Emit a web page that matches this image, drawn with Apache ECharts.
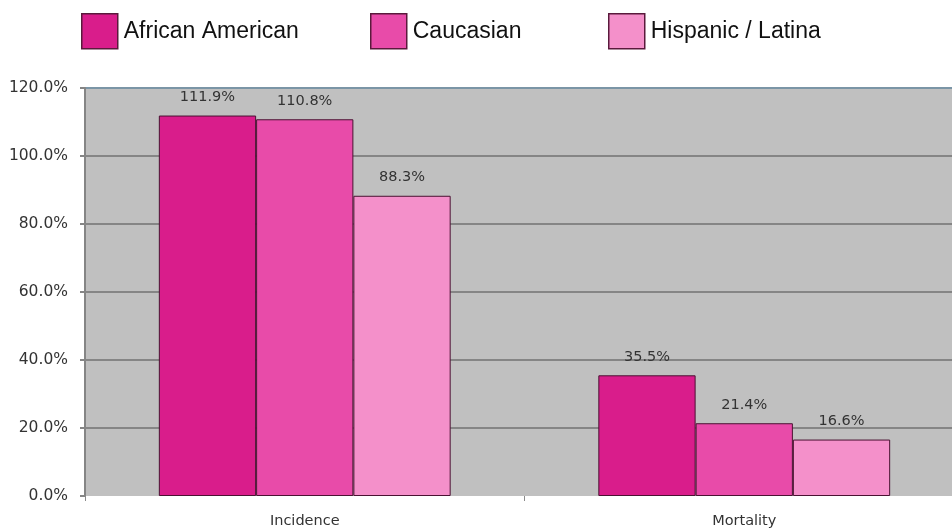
<!DOCTYPE html>
<html>
<head>
<meta charset="utf-8">
<script src="https://cdn.jsdelivr.net/npm/echarts@6/dist/echarts.min.js"></script>
<style>
  html, body { margin: 0; padding: 0; background: #ffffff; }
  #chart { width: 952px; height: 531px; }
</style>
</head>
<body>
<div id="chart"></div>
<script>
// Rates by group, in percent
const categories = ['Incidence', 'Mortality'];
const africanAmerican = [111.9, 35.5];
const caucasian = [110.8, 21.4];
const hispanicLatina = [88.3, 16.6];
const seriesNames = ['African American', 'Caucasian', 'Hispanic / Latina'];
const seriesColors = ['#d91d8b', '#e84ba9', '#f490ca'];

const smallFont = "'DejaVu Sans', sans-serif";
const legendLefts = [81, 370, 608];

function barSeries(name, data, color) {
  return {
    name: name,
    type: 'bar',
    data: data,
    barGap: '0%',
    barCategoryGap: '33.6%',
    itemStyle: { color: color, borderColor: '#4a1232', borderWidth: 1 },
    label: {
      show: true,
      position: 'top',
      distance: 11,
      color: '#333333',
      fontFamily: smallFont,
      fontSize: 14.5,
      formatter: p => p.value.toFixed(1) + '%'
    }
  };
}

// one legend block per series so each entry sits at its own spot
const legends = seriesNames.map((name, i) => ({
  data: [name],
  left: legendLefts[i],
  top: 13,
  padding: 0,
  itemWidth: 36,
  itemHeight: 35,
  itemGap: 6,
  icon: 'rect',
  itemStyle: { borderColor: '#5a1a3c', borderWidth: 1.5 },
  textStyle: { fontFamily: "'Liberation Sans', Arial, sans-serif", fontSize: 23, color: '#111111', padding: [4, 0, 0, 1] }
}));

const chart = echarts.init(document.getElementById('chart'), null, { renderer: 'canvas' });
chart.setOption({
  animation: false,
  backgroundColor: '#ffffff',
  legend: legends,
  grid: {
    left: 85,
    top: 88,
    width: 879,
    height: 408,
    outerBoundsMode: 'none',
    show: true,
    backgroundColor: '#c0c0c0',
    borderWidth: 0
  },
  xAxis: {
    type: 'category',
    data: categories,
    axisLine: { show: false },
    axisTick: { show: true, length: 5, lineStyle: { color: '#8a8a8a', width: 1 } },
    axisLabel: { color: '#333333', fontFamily: smallFont, fontSize: 14.5, margin: 18 }
  },
  yAxis: {
    type: 'value',
    min: 0,
    max: 120,
    interval: 20,
    axisLine: { show: true, lineStyle: { color: '#858585', width: 2 } },
    axisTick: { show: true, length: 5, lineStyle: { color: '#858585', width: 2 } },
    axisLabel: {
      color: '#333333',
      fontFamily: smallFont,
      fontSize: 15.5,
      margin: 17,
      formatter: v => v.toFixed(1) + '%'
    },
    splitLine: {
      show: true,
      lineStyle: {
        color: ['rgba(0,0,0,0)', '#858585', '#858585', '#858585', '#858585', '#858585', '#7b95a6'],
        width: 2
      }
    }
  },
  series: [
    barSeries(seriesNames[0], africanAmerican, seriesColors[0]),
    barSeries(seriesNames[1], caucasian, seriesColors[1]),
    barSeries(seriesNames[2], hispanicLatina, seriesColors[2])
  ]
});
</script>
</body>
</html>
